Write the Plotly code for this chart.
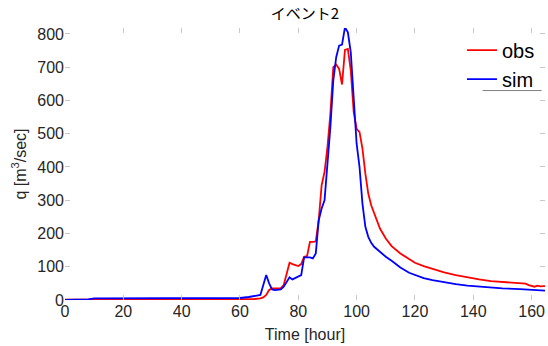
import plotly.graph_objects as go

# observed discharge (hour, m3/s)
obs_t = [0, 10, 20, 30, 40, 50, 60, 65, 67, 68, 69, 70, 71, 72, 74, 75, 76, 77, 78, 79,
         80, 81, 82, 83, 84, 85, 86, 87, 88, 89, 90, 91, 92, 93, 94, 95, 96, 97, 98, 99,
         100, 101, 102, 103, 104, 105, 106, 108, 110, 112, 115, 118, 120, 123, 127, 130,
         134, 138, 142, 146, 150, 154, 158, 159, 160, 161, 162, 163, 164, 165]
obs_q = [1, 2, 2, 2, 2, 2, 2, 3, 5, 8, 15, 30, 35, 35, 36, 45, 80, 112, 108, 106,
         102, 108, 130, 132, 175, 175, 176, 240, 345, 385, 460, 560, 700, 708, 695, 648, 752, 755, 690, 565,
         515, 505, 455, 380, 320, 285, 260, 215, 185, 162, 140, 122, 112, 102, 90, 83,
         75, 68, 62, 57, 54, 51, 49, 45, 42, 40, 43, 41, 42, 42]

# simulated discharge
sim_t = [0, 5, 8, 10, 20, 30, 40, 45, 50, 55, 60, 63, 66, 67, 68, 69, 70, 71, 72, 74,
         75, 76, 77, 78, 79, 80, 81, 82, 83, 84, 85, 86, 87, 88, 89, 90, 91, 92, 93, 94,
         95, 96, 97, 98, 99, 100, 101, 102, 103, 104, 105, 106, 108, 110, 112, 115, 118,
         120, 123, 126, 130, 134, 138, 142, 146, 150, 156, 160, 165]
sim_q = [0, 1, 2, 5, 5, 5, 5, 6, 6, 5, 6, 9, 12, 15, 45, 75, 50, 32, 30, 32,
         40, 55, 68, 62, 66, 70, 75, 128, 128, 128, 125, 140, 240, 275, 300, 400, 520, 660, 730, 765,
         768, 820, 805, 745, 590, 470, 400, 290, 220, 190, 172, 160, 145, 130, 118, 98, 82,
         75, 66, 60, 53, 48, 43, 40, 37, 35, 33, 30, 28]

x_ticks = [0, 20, 40, 60, 80, 100, 120, 140, 160]
y_ticks = [0, 100, 200, 300, 400, 500, 600, 700, 800]

FONT = "Liberation Sans, Arial"
TXT = "#262626"

fig = go.Figure()
fig.add_trace(go.Scatter(x=obs_t, y=obs_q, mode="lines", name="obs",
                         line=dict(color="#ff0000", width=1.8)))
fig.add_trace(go.Scatter(x=sim_t, y=sim_q, mode="lines", name="sim",
                         line=dict(color="#0000ff", width=1.8)))

axis_common = dict(showgrid=False, zeroline=False, showline=False, mirror="allticks",
                   ticks="inside", ticklen=5, tickcolor="#c8c8c8", tickwidth=1,
                   automargin=False,
                   tickfont=dict(family=FONT, size=16, color=TXT))

fig.update_xaxes(range=[0, 164.6], tickvals=x_ticks,
                 title=dict(text="Time [hour]", font=dict(family=FONT, size=16, color=TXT), standoff=9),
                 **axis_common)
fig.update_yaxes(range=[0, 818], tickvals=y_ticks,
                 title=dict(text="q [m<sup>3</sup>/sec]", font=dict(family=FONT, size=16, color=TXT), standoff=6),
                 **axis_common)

fig.add_shape(type="line", xref="paper", yref="paper", x0=0.87, x1=0.993, y0=0.77, y1=0.77,
              line=dict(color="#808080", width=1))

fig.update_layout(
    width=548, height=346,
    margin=dict(l=65, r=3, t=28, b=46, autoexpand=False),
    paper_bgcolor="white", plot_bgcolor="white",
    title=dict(text="イベント2", x=0.5565, xanchor="center", y=0.975, yanchor="top",
               font=dict(family="Noto Sans CJK JP", size=15, color="#000000")),
    legend=dict(x=0.827, xanchor="left", y=0.99, yanchor="top", bgcolor="rgba(0,0,0,0)",
                font=dict(family=FONT, size=20, color="#000000"),
                tracegroupgap=0, itemwidth=30),
    showlegend=True,
)

fig.write_html("out.html", config={"displayModeBar": False},
               post_script="document.body.style.margin='0';document.body.style.padding='0';")
